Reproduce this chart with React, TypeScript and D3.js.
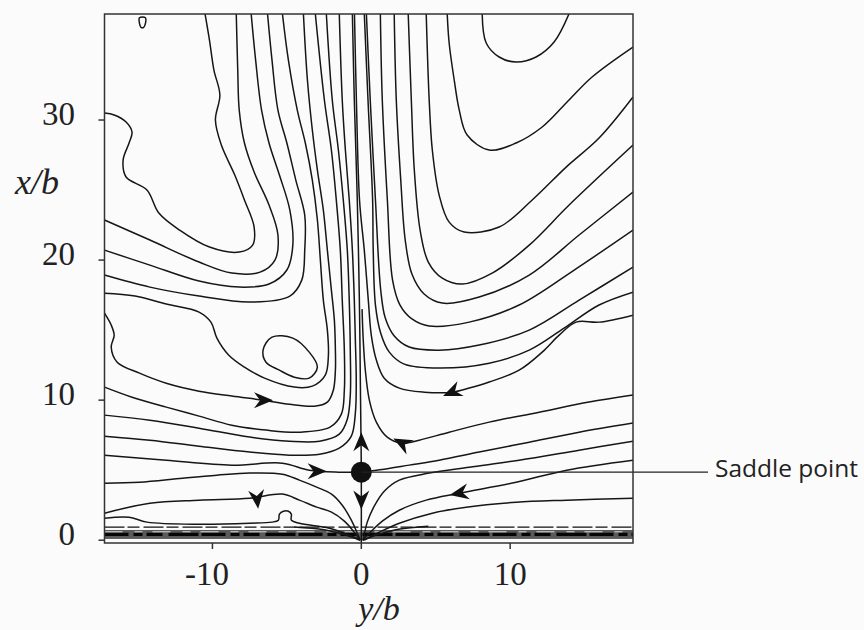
import React from "react";
import * as d3 from "d3";

type Pt = [number, number];

const X_DOMAIN: Pt = [-17.25, 18.25];
const Y_DOMAIN: Pt = [-0.2, 37.57];
const xTicks = [-10, 0, 10];
const yTicks = [0, 10, 20, 30];
const xTitle = "y/b";
const yTitle = "x/b";
const annotation = "Saddle point";
const saddle: Pt = [0, 4.86];

// ---- contour lines (x = y/b, y = x/b) ----
const L1: Pt[] = [[-17.25,30.5],[-16.6,30.36],[-15.8,29.86],[-15.4,29.14],[-15.6,28.36],[-16.0,27.14],[-15.8,25.93],[-14.4,25.0],[-13.6,23.36],[-12.2,22.14],[-10.2,20.93],[-8.2,20.57],[-7.3,21.07],[-7.2,22.36],[-7.85,24.29],[-8.5,26.07],[-9.4,28.21],[-9.8,30.0],[-9.5,31.79],[-9.9,33.57],[-10.2,35.71],[-10.5,37.6]];
const L2: Pt[] = [[-17.25,22.86],[-14.2,21.43],[-10.9,19.86],[-8.7,19.07],[-6.8,19.14],[-5.8,20.0],[-5.6,21.79],[-6.2,23.93],[-7.2,26.29],[-7.85,28.36],[-8.2,30.71],[-8.3,33.57],[-8.4,37.6]];
const L3: Pt[] = [[-17.25,20.71],[-14.2,19.64],[-10.9,18.5],[-8.2,18.07],[-6.2,18.29],[-5.0,19.29],[-4.6,21.07],[-4.8,23.57],[-5.5,26.07],[-6.2,28.36],[-6.7,30.71],[-7.1,34.29],[-7.4,37.6]];
const L4: Pt[] = [[-6.3,37.6],[-6.0,34.29],[-5.6,30.71],[-5.0,28.36],[-4.4,25.71],[-3.8,23.21],[-3.8,20.71],[-4.0,18.57],[-4.8,17.43],[-7.5,17.0],[-10.9,17.43],[-14.2,18.07],[-17.25,18.93]];
const L5: Pt[] = [[-5.3,37.6],[-4.9,34.29],[-4.3,30.71],[-3.76,28.36],[-3.29,25.71],[-2.95,22.86],[-2.75,20.0],[-2.55,17.14],[-2.28,15.0],[-2.21,13.21],[-2.42,11.79],[-3.29,11.0],[-4.5,10.93],[-6.5,11.57],[-7.85,12.36],[-8.9,13.21],[-9.7,14.43],[-10.1,15.57],[-10.9,16.29],[-13.1,16.86],[-15.2,17.43],[-17.25,17.64]];
const loopLine: Pt[] = [[-6.6,13.57],[-6.0,14.5],[-4.6,14.43],[-3.5,13.43],[-2.95,12.36],[-3.5,11.57],[-4.5,11.64],[-5.5,12.14],[-6.4,12.71]];
const smallLoop: Pt[] = [[-14.9,37.3],[-14.5,37.3],[-14.5,36.9],[-14.62,36.62],[-14.8,36.62],[-14.9,36.9]];
const A: Pt[] = [[-17.25,16.21],[-16.8,15.36],[-16.6,14.64],[-16.8,13.79],[-16.4,12.71],[-14.9,11.93],[-13.1,11.21],[-10.9,10.64],[-8.7,10.29],[-6.6,10.0],[-4.83,9.71],[-3.15,9.57],[-2.28,9.86],[-1.88,10.71],[-1.74,12.14],[-1.74,13.57],[-1.81,15.71],[-2.01,17.86],[-2.28,20.71],[-2.55,23.57],[-2.95,26.43],[-3.29,29.29],[-3.62,32.86],[-3.89,37.6]];
const B: Pt[] = [[-17.25,10.93],[-15.4,10.21],[-13.1,9.5],[-10.9,8.86],[-8.7,8.21],[-6.4,7.86],[-4.2,7.71],[-2.1,8.07],[-1.34,9.0],[-1.14,10.71],[-1.14,13.57],[-1.28,17.14],[-1.41,20.71],[-1.68,24.29],[-2.01,27.86],[-2.48,31.43],[-3.09,37.6]];
const C: Pt[] = [[-17.25,8.93],[-14.2,8.57],[-10.9,8.0],[-7.5,7.36],[-4.83,7.07],[-2.8,7.07],[-1.48,7.57],[-0.94,8.64],[-0.74,10.36],[-0.74,13.57],[-0.81,17.14],[-0.94,20.71],[-1.21,24.29],[-1.54,27.86],[-1.95,31.43],[-2.35,37.6]];
const C2: Pt[] = [[-17.25,7.43],[-14.2,7.14],[-10.9,6.71],[-7.5,6.29],[-4.83,6.07],[-2.8,6.14],[-1.48,6.57],[-0.67,7.43],[-0.4,9.07],[-0.34,11.43],[-0.4,14.29],[-0.47,17.14],[-0.6,20.71],[-0.81,24.29],[-1.07,27.86],[-1.28,31.43],[-1.48,37.6]];
const centerLine: Pt[] = [[-0.6,37.6],[-0.47,31.43],[-0.27,24.29],[-0.13,17.14],[-0.05,10.0],[0,4.86],[0,-0.2]];
const D: Pt[] = [[-17.25,6.07],[-13.1,5.71],[-8.7,5.36],[-5.3,5.5],[-3.5,5.0],[-1.5,4.86],[0,4.86]];
const E: Pt[] = [[-17.25,4.07],[-14.9,4.14],[-12.0,4.43],[-9.7,4.64],[-7.5,4.79],[-5.3,4.71],[-4.16,4.29],[-3.0,3.79],[-2.0,3.29],[-1.28,2.5],[-0.67,1.43],[-0.27,0.5],[-0.07,0]];
const F: Pt[] = [[-17.25,1.93],[-14.2,2.64],[-10.9,2.86],[-7.5,3.0],[-5.3,3.29],[-4.16,2.86],[-3.0,2.36],[-2.0,2.0],[-1.14,1.36],[-0.47,0.57],[-0.07,0]];
const G: Pt[] = [[-17.25,1.57],[-15.6,1.64],[-14.4,1.29],[-10.9,1.14],[-7.5,1.21],[-6.0,1.29],[-5.57,1.43],[-5.5,1.86],[-5.23,2.07],[-4.9,2.07],[-4.7,1.86],[-4.7,1.43],[-4.16,1.21],[-2.15,0.86],[-0.81,0.36],[-0.07,0]];
const U0: Pt[] = [[8.12,37.6],[8.39,35.5],[9.26,34.5],[10.4,34.14],[11.74,34.5],[12.95,35.57],[13.96,37.6]];
const R1: Pt[] = [[5.77,37.6],[5.9,35.5],[6.24,32.86],[6.58,30.71],[7.11,28.93],[8.59,27.86],[10.4,28.36],[12.15,29.5],[13.76,31.21],[15.5,33.07],[18.25,35.21]];
const R2: Pt[] = [[4.36,37.6],[4.56,31.43],[4.77,27.86],[5.23,24.64],[5.9,22.71],[6.91,22.0],[9.26,22.36],[11.48,24.29],[13.76,26.64],[15.97,28.71],[18.25,31.64]];
const R3: Pt[] = [[3.15,37.6],[3.36,31.43],[3.56,26.43],[3.95,22.14],[4.5,19.86],[5.44,18.71],[6.78,18.29],[8.79,19.07],[11.28,21.07],[13.96,23.93],[18.25,28.21]];
const R4: Pt[] = [[2.21,37.6],[2.35,31.43],[2.65,25.71],[2.95,21.43],[3.4,19.0],[4.2,17.6],[5.44,16.93],[7.92,17.36],[11.28,18.93],[14.63,21.79],[18.25,24.86]];
const R5: Pt[] = [[1.28,37.6],[1.41,31.43],[1.75,24.29],[2.1,18.57],[2.6,16.79],[3.4,15.8],[4.56,15.29],[7.25,15.57],[10.6,16.79],[14.3,19.29],[18.25,22.14]];
const R6: Pt[] = [[18.25,19.5],[14.63,17.14],[11.28,15.0],[7.92,13.93],[5.23,13.57],[3.22,13.79],[2.2,14.6],[1.6,15.9],[1.3,17.9],[0.95,24.29],[0.6,31.43],[0.34,37.6]];
const R7: Pt[] = [[18.25,17.71],[15.97,16.79],[13.62,15.14],[11.28,13.57],[8.59,12.64],[5.23,12.29],[2.89,12.57],[1.88,13.43],[1.3,14.8],[0.95,16.79],[0.8,20.71],[0.76,24.29],[0.45,31.43],[0.2,37.6]];
const R8: Pt[] = [[18.25,16.07],[15.97,15.57],[14.43,15.57],[13.29,14.64],[12.15,13.43],[10.6,12.14],[8.59,11.29],[7.25,10.86],[6.11,10.57],[4.23,10.57],[2.55,10.86],[1.54,11.57],[1.01,12.86],[0.67,14.64],[0.47,17.14],[0.2,20.71],[-0.12,24.29],[-0.33,31.43],[-0.46,37.6]];
const R9: Pt[] = [[18.25,10.36],[15.3,9.86],[11.95,9.14],[8.59,8.43],[5.9,7.71],[3.89,7.14],[2.75,6.93],[1.74,7.36],[1.01,8.43],[0.54,10.0],[0.27,12.14],[0.13,14.29],[0.05,16.5]];
const sepRight: Pt[] = [[18.25,8.36],[14.63,7.71],[11.28,7.0],[7.92,6.29],[5.23,5.71],[3.22,5.36],[1.54,5.07],[0,4.86]];
const S0: Pt[] = [[18.25,7.07],[14.63,6.43],[10.6,5.71],[7.25,5.21],[4.56,4.79],[2.55,4.29],[1.54,3.5],[0.87,2.43],[0.4,1.29],[0.13,0]];
const S1: Pt[] = [[18.25,5.71],[13.8,5.0],[10.4,4.14],[6.6,3.36],[4.36,2.86],[2.55,2.14],[1.41,1.36],[0.54,0.5],[0.07,0]];
const S2: Pt[] = [[18.25,3.0],[13.8,2.86],[10.4,2.71],[7.05,2.36],[4.77,1.93],[2.55,1.21],[1.21,0.57],[0.2,0]];
const fanLeft: Pt[] = [[-4.5,0.95],[-2.5,0.75],[-1.0,0.35],[-0.1,0]];
const fanRight: Pt[] = [[4.5,1.0],[2.5,0.78],[1.0,0.36],[0.1,0]];

const openLines: Pt[][] = [L1, L2, L3, L4, L5, A, B, C, C2, centerLine, D, E, F, G, U0, R1, R2, R3, R4, R5, R6, R7, R8, R9, sepRight, S0, S1, S2, fanLeft, fanRight];
const closedLines: Pt[][] = [loopLine, smallLoop];

// wall strip at the bottom
const stripBand: Pt = [0.09, 0.73];
const stripDashY = 0.93;
const stripBlackY = 0.41;
const stripLightY = 0.6;

// arrowheads: position and flow direction
const arrowAt: Pt[] = [[-6.6, 10.0], [-3.0, 4.93], [-7.0, 2.95], [0, 7.0], [0, 2.9], [2.75, 6.93], [6.11, 10.57], [6.6, 3.36]];
const arrowDir: Pt[] = [[1, 0], [1, 0], [0.1, -1], [0, 1], [0, -1], [-1, 0.55], [-1, -0.45], [-1, -0.2]];

export default function App() {
  const x = d3.scaleLinear().domain(X_DOMAIN).range([104.5, 633]);
  const y = d3.scaleLinear().domain(Y_DOMAIN).range([543, 14]);
  const line = d3.line<Pt>().x(d => x(d[0])).y(d => y(d[1])).curve(d3.curveCatmullRom.alpha(0.5));
  const closed = d3.line<Pt>().x(d => x(d[0])).y(d => y(d[1])).curve(d3.curveCatmullRomClosed.alpha(0.5));
  const [x0, x1] = x.range();
  const [y0, y1] = y.range();
  const serif = "'Liberation Serif', 'Times New Roman', serif";
  const stroke = "#161616";

  return (
    <svg width={864} height={630} style={{ position: "absolute", left: 0, top: 0, background: "#fbfbfb" }}>
      <defs>
        <clipPath id="plot">
          <rect x={x0} y={y1} width={x1 - x0} height={y0 - y1} />
        </clipPath>
      </defs>
      <rect x={0} y={0} width={864} height={630} fill="#fbfbfb" />
      <g clipPath="url(#plot)">
        <rect x={x0} y={y(stripBand[1])} width={x1 - x0} height={y(stripBand[0]) - y(stripBand[1])} fill="#5a5a5a" />
        <line x1={x0} x2={x1} y1={y(stripBlackY)} y2={y(stripBlackY)} stroke="#050505" strokeWidth={3.2} strokeDasharray="24 5 9 4 16 6 30 3" />
        <line x1={x0} x2={x1} y1={y(stripLightY)} y2={y(stripLightY)} stroke="#d8d8d8" strokeWidth={1} strokeDasharray="18 12 8 10" />
        <line x1={x0} x2={x1} y1={y(stripDashY)} y2={y(stripDashY)} stroke="#111" strokeWidth={1.4} strokeDasharray="20 3 12 4" />
        {openLines.map((l, i) => (
          <path key={i} d={line(l) || ""} fill="none" stroke={stroke} strokeWidth={1.5} strokeLinejoin="round" />
        ))}
        {closedLines.map((l, i) => (
          <path key={"c" + i} d={closed(l) || ""} fill="none" stroke={stroke} strokeWidth={1.5} />
        ))}
        {arrowAt.map((p, i) => {
          const px = x(p[0]);
          const py = y(p[1]);
          const ddx = x(p[0] + arrowDir[i][0] * 0.1) - px;
          const ddy = y(p[1] + arrowDir[i][1] * 0.1) - py;
          const ang = (Math.atan2(ddy, ddx) * 180) / Math.PI;
          return (
            <path key={"a" + i} d="M10,0 L-9,-8 L-3,0 L-9,8 Z" fill="#111" transform={`translate(${px},${py}) rotate(${ang})`} />
          );
        })}
        <circle cx={x(saddle[0])} cy={y(saddle[1])} r={10.5} fill="#111" />
      </g>
      <line x1={x(saddle[0])} x2={708} y1={y(saddle[1])} y2={y(saddle[1])} stroke="#222" strokeWidth={1.3} />
      <text x={715} y={477} fontFamily="'Open Sans', 'Noto Sans', sans-serif" fontSize={24.5} fill="#222">{annotation}</text>
      <rect x={x0} y={y1} width={x1 - x0} height={y0 - y1} fill="none" stroke="#333" strokeWidth={1.5} />
      {yTicks.map(t => (
        <g key={"y" + t}>
          <line x1={x0 - 6} x2={x0} y1={y(t)} y2={y(t)} stroke="#333" strokeWidth={1.5} />
          <text x={75} y={y(t) + 5} textAnchor="end" fontFamily={serif} fontSize={33} fill="#222">{t}</text>
        </g>
      ))}
      {xTicks.map(t => {
        const digits = String(Math.abs(t)).length;
        return (
          <g key={"x" + t}>
            <line x1={x(t)} x2={x(t)} y1={y0} y2={y0 + 6} stroke="#333" strokeWidth={1.5} />
            <text x={x(t) + digits * 8.25} y={585} textAnchor="end" fontFamily={serif} fontSize={33} fill="#222">{t < 0 ? "-" + Math.abs(t) : String(t)}</text>
          </g>
        );
      })}
      <text x={37} y={194} textAnchor="middle" fontFamily={serif} fontStyle="italic" fontSize={36} fill="#222">{yTitle}</text>
      <text x={379} y={620} textAnchor="middle" fontFamily={serif} fontStyle="italic" fontSize={34} fill="#222">{xTitle}</text>
    </svg>
  );
}
